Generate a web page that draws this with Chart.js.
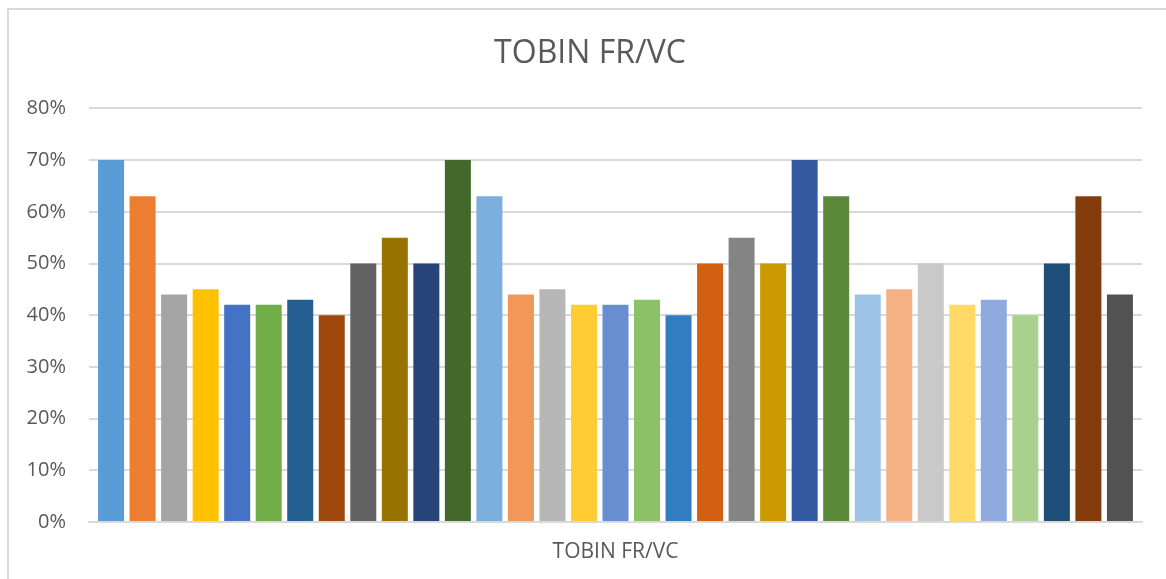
<!DOCTYPE html>
<html>
<head>
<meta charset="utf-8">
<script src="https://cdn.jsdelivr.net/npm/chart.js@4.4.1/dist/chart.umd.min.js"></script>
<style>
  html, body { margin: 0; padding: 0; background: #fff; }
  #wrap { position: relative; width: 1166px; height: 579px; }
</style>
</head>
<body>
<div id="wrap"><canvas id="chart" width="1166" height="579"></canvas></div>
<script>
// one category, 33 series (each drawn as its own bar)
const categories = ['TOBIN FR/VC'];
const seriesValues = [
  0.70, 0.63, 0.44, 0.45, 0.42, 0.42, 0.43, 0.40, 0.50, 0.55, 0.50,
  0.70, 0.63, 0.44, 0.45, 0.42, 0.42, 0.43, 0.40, 0.50, 0.55, 0.50,
  0.70, 0.63, 0.44, 0.45, 0.50, 0.42, 0.43, 0.40, 0.50, 0.63, 0.44
];
const seriesColors = [
  '#5B9BD5', '#ED7D31', '#A5A5A5', '#FFC000', '#4472C4', '#70AD47',
  '#255E91', '#9E480E', '#636363', '#997300', '#264478', '#43682B',
  '#7CAFDD', '#F1975A', '#B7B7B7', '#FFCD33', '#698ED0', '#8CC168',
  '#327DC2', '#D26012', '#848484', '#CC9A00', '#335AA1', '#5A8A39',
  '#9DC3E6', '#F4B183', '#C9C9C9', '#FFD966', '#8FAADC', '#A9D18E',
  '#1F4E79', '#843C0C', '#525252'
];
const yTicks = [0, 0.1, 0.2, 0.3, 0.4, 0.5, 0.6, 0.7, 0.8];

const textColor = '#595959';
const gridColor = '#D9D9D9';

const datasets = seriesValues.map((v, i) => ({
  label: 'Series' + (i + 1),
  data: [v],
  backgroundColor: seriesColors[i],
  borderWidth: 0
}));

// light frame around the chart, like the Excel chart border
const frame = {
  id: 'frame',
  beforeDraw(chart) {
    const ctx = chart.ctx;
    ctx.save();
    ctx.strokeStyle = gridColor;
    ctx.lineWidth = 2;
    ctx.beginPath();
    ctx.moveTo(8, chart.height);
    ctx.lineTo(8, 9);
    ctx.lineTo(chart.width, 9);
    ctx.stroke();
    ctx.restore();
  }
};

new Chart(document.getElementById('chart'), {
  type: 'bar',
  data: { labels: categories, datasets: datasets },
  plugins: [frame],
  options: {
    responsive: false,
    animation: false,
    layout: { padding: { left: 20, right: 6, top: 0, bottom: 0 } },
    datasets: {
      bar: { categoryPercentage: 0.988, barPercentage: 0.825 }
    },
    plugins: {
      legend: { display: false },
      tooltip: { enabled: false },
      title: {
        display: true,
        text: 'TOBIN FR/VC',
        color: textColor,
        font: { family: 'Open Sans', size: 32, weight: 'normal' },
        padding: { top: 35, bottom: 35 }
      }
    },
    scales: {
      x: {
        grid: { display: false, drawTicks: false },
        border: { display: true, color: gridColor, width: 2 },
        ticks: {
          color: textColor,
          font: { family: 'Open Sans', size: 21 },
          padding: 17
        },
        afterFit(scale) { scale.height = 57; }
      },
      y: {
        min: 0,
        max: 0.8,
        afterBuildTicks(scale) { scale.ticks = yTicks.map(v => ({ value: v })); },
        grid: { color: gridColor, lineWidth: 2, drawTicks: false },
        border: { display: false },
        ticks: {
          color: textColor,
          font: { family: 'Open Sans', size: 20 },
          padding: 23,
          callback: v => Math.round(v * 100) + '%'
        },
        afterFit(scale) { scale.width = 69; }
      },
      // empty spacer on the right so the plot ends where Excel's does
      spacer: {
        type: 'linear',
        position: 'right',
        display: true,
        grid: { display: false, drawTicks: false },
        border: { display: false },
        ticks: { display: false },
        afterFit(scale) { scale.width = 18; }
      }
    }
  }
});
</script>
</body>
</html>
